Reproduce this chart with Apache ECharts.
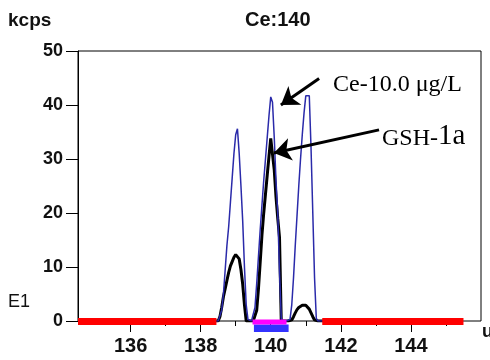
<!DOCTYPE html>
<html>
<head>
<meta charset="utf-8">
<script src="https://cdn.jsdelivr.net/npm/echarts@6/dist/echarts.min.js"></script>
<style>
html, body { margin: 0; padding: 0; background: #fff; }
#main { width: 490px; height: 360px; }
</style>
</head>
<body>
<div id="main"></div>
<script>
// mass axis (u) of the scan
var massAxis = [138.40, 138.45, 138.50, 138.55, 138.60, 138.65, 138.70, 138.75, 138.80, 138.85,
    138.90, 138.95, 139.00, 139.05, 139.10, 139.15, 139.20, 139.25, 139.30, 139.35,
    139.40, 139.45, 139.50, 139.55, 139.60, 139.65, 139.70, 139.75, 139.80, 139.85,
    139.90, 139.95, 140.00, 140.05, 140.10, 140.15, 140.20, 140.25, 140.30, 140.35,
    140.40, 140.45, 140.50, 140.55, 140.60, 140.65, 140.70, 140.75, 140.80, 140.85,
    140.90, 140.95, 141.00, 141.05, 141.10, 141.15, 141.20, 141.25, 141.30, 141.35,
    141.40, 141.45, 141.50];
// Ce-10.0 ug/L standard (kcps)
var ceStd = [0, 0, 0, 0.3, 2, 5, 9.5, 14, 17.5, 22,
    26.5, 31, 34.5, 35.6, 31, 25, 18.5, 10, 3, 0.3,
    0, 0, 0.3, 2.5, 7, 12, 17, 21.5, 26, 30,
    34, 38, 41.5, 40.5, 34, 26, 20, 9, 0.5, 0,
    0, 0, 0, 0.3, 3, 8, 14, 19.5, 25, 30,
    34.5, 38.5, 41.7, 41.7, 41.7, 32, 20, 8, 0.5, 0,
    0, 0, 0];
// GSH-1a sample (kcps)
var gsh1a = [0, 0, 0, 0.8, 2.5, 4.5, 6, 7.5, 9, 10.2,
    11, 11.8, 12.3, 12.4, 11.5, 9.5, 6.8, 3, 0, 0,
    0, 0, 0, 0, 2, 6, 11, 16, 20, 23.5,
    27, 30.5, 33.8, 33.5, 28, 23, 19, 15.5, 0, 0,
    0, 0, 0, 0, 0.2, 0.8, 1.5, 2.1, 2.5, 2.8,
    2.9, 2.9, 2.9, 2.7, 2.2, 1.5, 0.8, 0.2, 0, 0,
    0, 0, 0];
// scan windows along the mass axis
var backgroundWindows = [[134.5, 138.45], [141.47, 145.5]];
var peakWindowA = [[139.48, 140.45]];
var peakWindowB = [[139.52, 140.51]];
var majorTicks = [136, 138, 140, 142, 144];
var minorTicks = [137, 139, 141, 143, 145];

var myChart = echarts.init(document.getElementById('main'));

function pairs(xs, ys) {
    var out = [];
    for (var i = 0; i < xs.length; i++) out.push([xs[i], ys[i]]);
    return out;
}

function bandSeries(ranges, color, dy, h, z) {
    return {
        type: 'custom',
        z: z,
        silent: true,
        clip: false,
        encode: {x: [0, 1], y: 2},
        data: ranges.map(function (r) { return [r[0], r[1], 0]; }),
        renderItem: function (params, api) {
            var s = api.coord([api.value(0), 0]);
            var e = api.coord([api.value(1), 0]);
            return {
                type: 'rect',
                shape: {x: s[0], y: s[1] + dy, width: e[0] - s[0], height: h},
                style: {fill: color}
            };
        }
    };
}

var sans = 'Liberation Sans, Arial, sans-serif';
var serif = 'Liberation Serif, Times New Roman, serif';

var option = {
    animation: false,
    grid: {left: 78, right: 9, top: 51, bottom: 39, show: true, borderColor: '#000', borderWidth: 1},
    xAxis: [{
        type: 'value', min: 134.5, max: 146,
        axisLine: {show: false},
        splitLine: {show: false},
        axisTick: {show: true, customValues: majorTicks, length: 11, lineStyle: {color: '#000'}},
        axisLabel: {customValues: majorTicks, margin: 15, color: '#111', fontSize: 20, fontWeight: 'bold', fontFamily: sans}
    }, {
        type: 'value', min: 134.5, max: 146, position: 'bottom',
        axisLine: {show: false},
        splitLine: {show: false},
        axisTick: {show: true, customValues: minorTicks, length: 5, lineStyle: {color: '#000'}},
        axisLabel: {show: false}
    }],
    yAxis: {
        type: 'value', min: 0, max: 50, interval: 10,
        axisLine: {show: true, lineStyle: {color: '#000'}},
        axisTick: {show: true, length: 12, lineStyle: {color: '#000'}},
        splitLine: {show: false},
        axisLabel: {margin: 15, color: '#111', fontSize: 18, fontWeight: 'bold', fontFamily: sans}
    },
    series: [{
        name: 'GSH-1a',
        type: 'line',
        data: pairs(massAxis, gsh1a),
        showSymbol: false,
        lineStyle: {color: '#000', width: 3},
        z: 2,
        markLine: {
            silent: true,
            symbol: ['none', 'arrow'],
            symbolSize: 17,
            label: {show: false},
            lineStyle: {color: '#000', width: 3, type: 'solid'},
            data: [
                [{coord: [141.38, 44.9]}, {coord: [140.29, 40.0]}],
                [{coord: [143.09, 35.4]}, {coord: [140.09, 31.1]}]
            ]
        }
    }, {
        name: 'Ce-10.0 μg/L',
        type: 'line',
        data: pairs(massAxis, ceStd),
        showSymbol: false,
        lineStyle: {color: '#2a2aaa', width: 1.5},
        z: 3
    },
        bandSeries(backgroundWindows, '#ff0000', -3, 7, 5),
        bandSeries(peakWindowB, '#3333ff', 3.5, 7.5, 5),
        bandSeries(peakWindowA, '#ff00ff', -1.5, 5, 6)
    ],
    graphic: [
        {type: 'text', left: 8, top: 11, style: {text: 'kcps', font: 'bold 19px ' + sans, fill: '#111'}},
        {type: 'text', left: 245, top: 10, style: {text: 'Ce:140', font: 'bold 20px ' + sans, fill: '#111'}},
        {type: 'text', left: 8, top: 293, style: {text: 'E1', font: '18px ' + sans, fill: '#111'}},
        {type: 'text', left: 482, top: 323, style: {text: 'u', font: 'bold 18px ' + sans, fill: '#111'}},
        {type: 'text', left: 333, top: 73, style: {text: 'Ce-10.0 μg/L', font: '24px ' + serif, fill: '#000'}},
        {type: 'text', left: 382, top: 122, style: {
            text: '{a|GSH-}{b|1a}',
            rich: {
                a: {fontFamily: serif, fontSize: 24, color: '#000', verticalAlign: 'bottom'},
                b: {fontFamily: serif, fontSize: 29, color: '#000', verticalAlign: 'bottom'}
            }
        }}
    ]
};
myChart.setOption(option);
</script>
</body>
</html>
